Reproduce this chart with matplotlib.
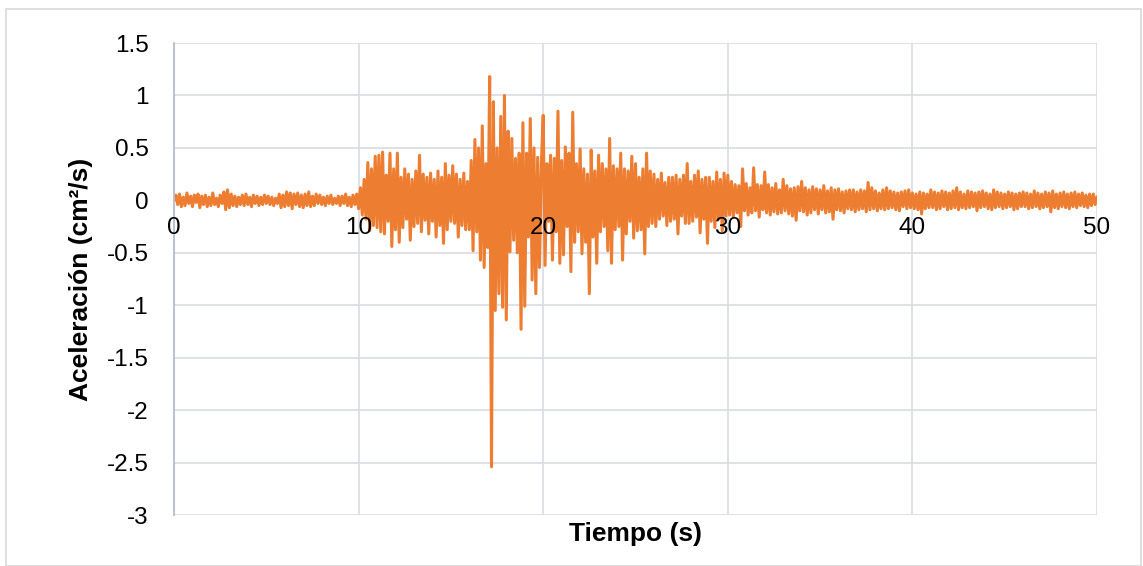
import numpy as np
import matplotlib.pyplot as plt
from matplotlib.patches import Rectangle

# acceleration, one value every 0.1 s, in hundredths of cm2/s
dt = 0.1
acc_00_10 = [
    0, 5, -4, 6, -6, 3, -5, 7, -3, 4,
    -6, 5, -2, 6, -7, 4, -4, 5, -6, 3,
    -5, 7, -4, 2, -6, 5, -3, 8, -9, 10,
    -7, 6, -5, 4, -6, 3, -4, 5, -5, 6,
    -4, 3, -6, 5, -3, 4, -5, 3, -4, 5,
    -3, 4, -4, 3, -5, 2, -3, 6, -7, 5,
    -6, 8, -5, 7, -8, 6, -4, 7, -6, 5,
    -7, 6, -5, 8, -6, 4, -5, 6, -3, 5,
    -4, 3, -5, 4, -3, 5, -4, 2, -3, 4,
    -5, 4, -3, 6, -5, 3, -6, 5, -4, 6,
]
acc_10_20 = [
    -8, 12, -14, 20, -18, 36, -29, 30, -24, 42,
    -26, 43, -30, 46, -32, 24, -20, 45, -44, 30,
    -28, 45, -40, 22, -26, 30, -18, 25, -38, 20,
    -25, 28, -22, 43, -30, 25, -19, 22, -32, 26,
    -20, 20, -35, 28, -24, 22, -41, 35, -28, 24,
    -20, 33, -22, 25, -35, 20, -24, 26, -28, 18,
    -28, 38, -48, 58, -30, 50, -57, 71, -64, 35,
    -45, 118, -254, 94, -105, 50, -89, 80, -102, 100,
    -114, 66, -49, 59, -38, 40, -50, 45, -123, 74,
    -101, 45, -35, 78, -76, 50, -89, 41, -64, 35,
]
acc_20_30 = [
    81, -62, 35, -20, 43, -57, 40, -30, 85, -60,
    38, -52, 51, -25, 45, -68, 84, -40, 35, -30,
    49, -51, 30, -40, 25, -89, 48, -35, 28, -60,
    43, -30, 35, -25, 30, -48, 59, -60, 33, -28,
    30, -25, 45, -57, 30, -32, 28, -20, 42, -36,
    35, -29, 22, -28, 30, -51, 45, -25, 28, -22,
    25, -25, 20, -18, 26, -15, 17, -24, 22, -20,
    22, -18, 24, -32, 20, -15, 24, -22, 35, -22,
    18, -20, 24, -16, 28, -31, 20, -18, 22, -41,
    22, -20, 18, -26, 27, -18, 20, -29, 26, -15,
]
acc_30_40 = [
    24, -14, 18, -16, 15, -12, 14, -25, 30, -10,
    16, -14, 12, -12, 31, -10, 15, -16, 14, -9,
    27, -12, 15, -14, 12, -11, 16, -13, 10, -12,
    20, -10, 14, -13, 11, -15, 12, -19, 13, -10,
    18, -11, 12, -14, 10, -12, 13, -9, 11, -13,
    10, -9, 14, -12, 9, -11, 12, -18, 10, -9,
    11, -10, 8, -12, 9, -8, 10, -9, 10, -11,
    8, -9, 10, -8, 9, -11, 17, -9, 12, -8,
    9, -10, 7, -8, 10, -9, 12, -8, 9, -7,
    8, -9, 7, -10, 8, -6, 9, -8, 10, -7,
]
acc_40_50 = [
    7, -8, 6, -9, 8, -13, 7, -8, 6, -7,
    10, -7, 8, -9, 7, -8, 9, -6, 8, -9,
    7, -8, 9, -7, 12, -9, 8, -7, 6, -8,
    9, -7, 8, -6, 7, -10, 8, -7, 9, -6,
    7, -8, 6, -9, 10, -7, 8, -6, 7, -8,
    6, -7, 8, -6, 7, -9, 6, -8, 7, -6,
    8, -6, 7, -8, 6, -7, 9, -6, 7, -8,
    6, -7, 8, -6, 7, -11, 9, -7, 6, -8,
    7, -6, 8, -7, 6, -8, 7, -6, 8, -7,
    6, -5, 7, -6, 5, -7, 6, -5, 6, -4,
    3,
]

acc = np.array(acc_00_10 + acc_10_20 + acc_20_30 + acc_30_40 + acc_40_50) / 100.0
t = np.arange(len(acc)) * dt

x_ticks = [0, 10, 20, 30, 40, 50]
y_ticks = [1.5, 1, 0.5, 0, -0.5, -1, -1.5, -2, -2.5, -3]
y_labels = ['1.5', '1', '0.5', '0', '-0.5', '-1', '-1.5', '-2', '-2.5', '-3']

plt.rcParams['font.family'] = ['Liberation Sans', 'DejaVu Sans']

fig = plt.figure(figsize=(11.43, 5.66), dpi=100)
ax = fig.add_axes([174 / 1143, 1 - 515 / 566, 923 / 1143, 472 / 566])

# chart area border
fig.patches.append(Rectangle((6 / 1143, 0), 1135 / 1143, 1 - 9 / 566,
                             transform=fig.transFigure, fill=False,
                             edgecolor='#d9d9d9', lw=1.2))

grid_color = '#d9dce3'
for yv in y_ticks:
    ax.axhline(yv, color=grid_color, lw=1.2, zorder=0.5)
for xv in x_ticks[1:]:
    ax.axvline(xv, color=grid_color, lw=1.2, zorder=0.5)

ax.plot(t, acc, color='#ED7D31', lw=2.2, zorder=2)

ax.set_xlim(0, 50)
ax.set_ylim(-3, 1.5)
ax.set_xticks(x_ticks)
ax.set_yticks(y_ticks)
ax.set_yticklabels(y_labels)

for side in ['top', 'right']:
    ax.spines[side].set_visible(False)
ax.spines['left'].set_color('#b4bdcc')
ax.spines['left'].set_linewidth(1.3)
ax.spines['bottom'].set_position(('data', 0))
ax.spines['bottom'].set_visible(False)
ax.xaxis.set_zorder(3)

ax.tick_params(axis='both', length=0, labelsize=17.5, colors='black')
ax.tick_params(axis='x', pad=12)
ax.tick_params(axis='y', pad=18)

ax.set_xlabel('Tiempo (s)', fontsize=19, fontweight='bold')
ax.set_ylabel('Aceleración (cm²/s)', fontsize=19, fontweight='bold')
ax.xaxis.set_label_coords(0.5, -0.015)
ax.yaxis.set_label_coords(-0.088, 0.5)

fig.savefig('out.png', dpi=100)
